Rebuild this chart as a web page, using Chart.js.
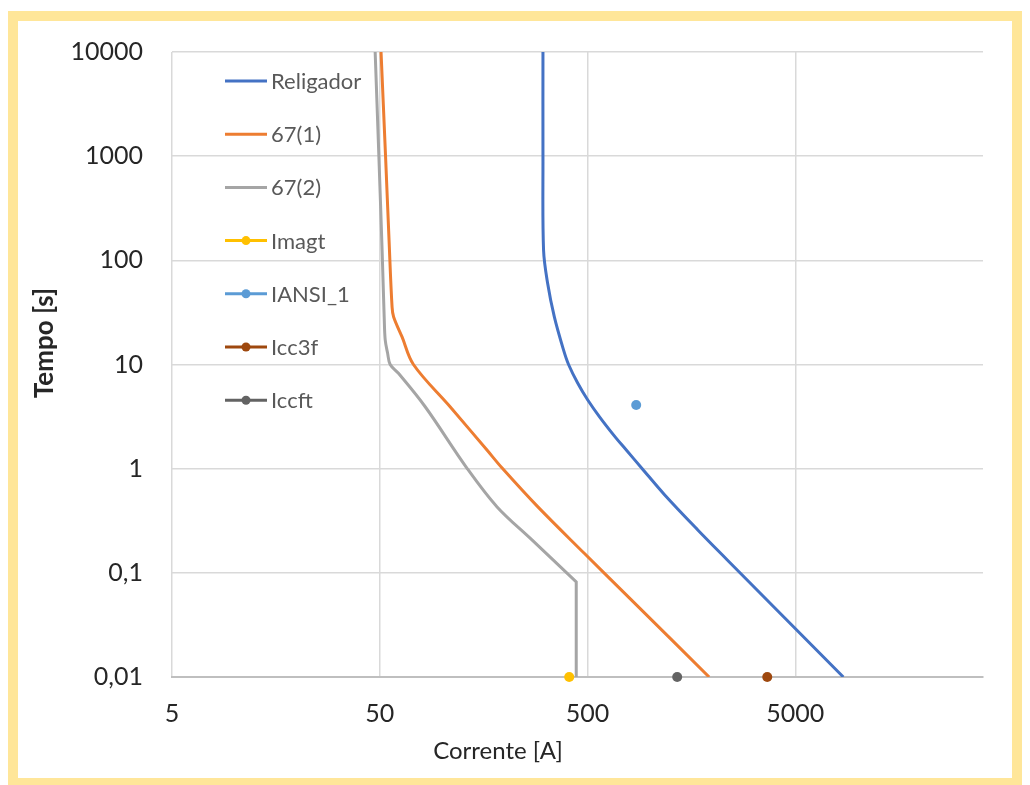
<!DOCTYPE html>
<html>
<head>
<meta charset="utf-8">
<script src="https://cdn.jsdelivr.net/npm/chart.js@4.4.1/dist/chart.umd.min.js"></script>
<style>
  html, body { margin: 0; padding: 0; background: #fff; overflow: hidden; }
  #frame {
    position: absolute; left: 8px; top: 11px; right: 8px; bottom: -3px;
    border: 10px solid #FFE699; background: #fff;
  }
  #chart { position: absolute; left: 0; top: 0; }
</style>
</head>
<body>
<div id="frame"></div>
<canvas id="chart" width="1030" height="785"></canvas>
<script>
// tick values / labels
const xTicks = [5, 50, 500, 5000];
const xTickLabels = ['5', '50', '500', '5000'];
const yTicks = [0.01, 0.1, 1, 10, 100, 1000, 10000];
const yTickLabels = ['0,01', '0,1', '1', '10', '100', '1000', '10000'];

// curves: corrente [A] / tempo [s]
const religadorI = [305, 305, 307, 321, 346, 383, 405, 448, 501, 572, 680, 768, 912, 1176, 1696, 2352, 8509];
const religadorT = [10000, 1000, 125.6, 60.6, 28.6, 13.8, 10, 6.64, 4.56, 3.13, 2.01, 1.51, 1.01, 0.559, 0.258, 0.133, 0.01];

const rele1I = [50.7, 53.3, 55.4, 57.3, 58.3, 64.0, 72.6, 109, 164, 193.5, 287.6, 482, 812, 1923];
const rele1T = [10000, 1000, 157, 35.6, 28.6, 18.4, 10, 3.93, 1.51, 1.02, 0.432, 0.154, 0.055, 0.01];

// the corner at 0,08 s is listed twice so it stays sharp
const rele2I = [47.5, 49.5, 51.3, 52.5, 53.1, 54.5, 56.1, 61.5, 82.7, 131, 183, 270, 441, 441, 441];
const rele2T = [10000, 1000, 125.6, 28.6, 17.2, 12.9, 10, 8.23, 3.93, 1.02, 0.432, 0.207, 0.0817, 0.0817, 0.01];

// single points
const imagtI = [408],   imagtT = [0.01];
const iansiI = [857],   iansiT = [4.08];
const icc3fI = [3662],  icc3fT = [0.01];
const iccftI = [1350],  iccftT = [0.01];

function pts(xs, ys) {
  return xs.map((x, i) => ({ x: x, y: ys[i] }));
}

function curve(label, xs, ys, color) {
  return {
    label, data: pts(xs, ys), showLine: true, borderColor: color, backgroundColor: color,
    borderWidth: 3, pointRadius: 0, tension: 0.35
  };
}

function marker(label, xs, ys, color) {
  return {
    label, data: pts(xs, ys), showLine: false, borderColor: color, backgroundColor: color,
    pointRadius: 5, pointBorderWidth: 0, clip: false
  };
}

const legendTop = 81;
const legendStep = 53.2;

const sideLegend = {
  id: 'sideLegend',
  afterDraw(chart) {
    const ctx = chart.ctx;
    const x0 = chart.chartArea.left + 53;
    ctx.save();
    ctx.font = '22px Lato';
    ctx.textBaseline = 'middle';
    chart.data.datasets.forEach((ds, i) => {
      const y = legendTop + i * legendStep;
      ctx.strokeStyle = ds.borderColor;
      ctx.lineWidth = 3;
      ctx.beginPath();
      ctx.moveTo(x0, y);
      ctx.lineTo(x0 + 42, y);
      ctx.stroke();
      if (!ds.showLine) {
        ctx.fillStyle = ds.backgroundColor;
        ctx.beginPath();
        ctx.arc(x0 + 21, y, 4.5, 0, Math.PI * 2);
        ctx.fill();
      }
      ctx.fillStyle = '#595959';
      ctx.fillText(ds.label, x0 + 46, y + 1);
    });
    ctx.restore();
  }
};

const axisTitles = {
  id: 'axisTitles',
  afterDraw(chart) {
    const ctx = chart.ctx;
    const a = chart.chartArea;
    ctx.save();
    ctx.fillStyle = '#262626';
    ctx.textAlign = 'center';
    ctx.textBaseline = 'middle';
    ctx.font = '24px Lato';
    ctx.fillText('Corrente [A]', a.left + 326, a.bottom + 74);
    ctx.translate(45, a.top + 291);
    ctx.rotate(-Math.PI / 2);
    ctx.font = 'bold 26px Lato';
    ctx.fillText('Tempo [s]', 0, 0);
    ctx.restore();
  }
};

new Chart(document.getElementById('chart'), {
  type: 'scatter',
  data: {
    datasets: [
      curve('Religador', religadorI, religadorT, '#4472C4'),
      curve('67(1)', rele1I, rele1T, '#ED7D31'),
      curve('67(2)', rele2I, rele2T, '#A5A5A5'),
      marker('Imagt', imagtI, imagtT, '#FFC000'),
      marker('IANSI_1', iansiI, iansiT, '#5B9BD5'),
      marker('Icc3f', icc3fI, icc3fT, '#9E480E'),
      marker('Iccft', iccftI, iccftT, '#636363')
    ]
  },
  options: {
    responsive: false,
    animation: false,
    layout: { padding: { left: 0, right: 47, top: 52, bottom: 0 } },
    plugins: { legend: { display: false }, tooltip: { enabled: false } },
    scales: {
      x: {
        type: 'logarithmic', min: 5, max: 40000,
        afterBuildTicks: s => { s.ticks = xTicks.map(v => ({ value: v })); },
        afterFit: s => { s.height = 108; },
        ticks: {
          autoSkip: false, maxRotation: 0, padding: 22,
          color: '#262626', font: { family: 'Lato', size: 25 },
          callback: v => xTickLabels[xTicks.indexOf(v)]
        },
        grid: { color: '#D9D9D9', lineWidth: 1.5, drawTicks: false },
        border: { color: '#BFBFBF', width: 2 }
      },
      y: {
        type: 'logarithmic', min: 0.01, max: 10000,
        afterBuildTicks: s => { s.ticks = yTicks.map(v => ({ value: v })); },
        afterFit: s => { s.width = 172; },
        ticks: {
          autoSkip: false, padding: 29,
          color: '#262626', font: { family: 'Lato', size: 25 },
          callback: v => yTickLabels[yTicks.indexOf(v)]
        },
        grid: { color: '#D9D9D9', lineWidth: 1.5, drawTicks: false },
        border: { display: false }
      }
    }
  },
  plugins: [sideLegend, axisTitles]
});
</script>
</body>
</html>
